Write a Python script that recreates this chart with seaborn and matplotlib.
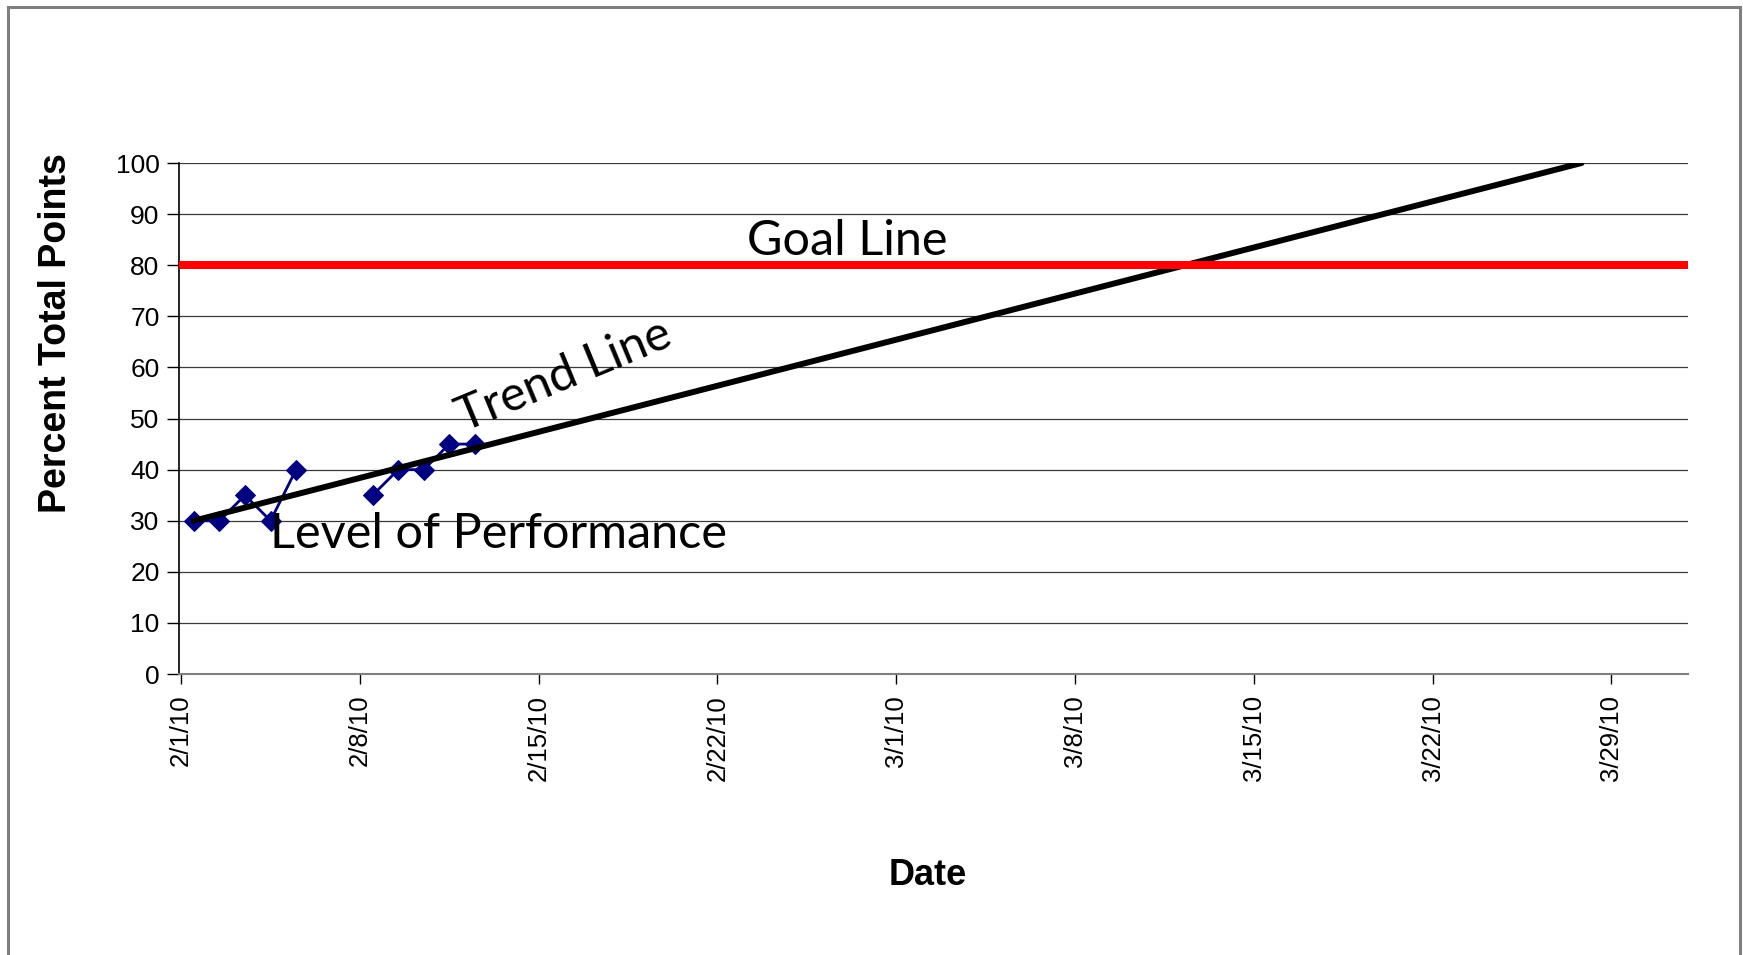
import numpy as np
import pandas as pd
import matplotlib
matplotlib.use("Agg")
import matplotlib.pyplot as plt
import matplotlib.dates as mdates
from matplotlib.ticker import FuncFormatter
from matplotlib.patches import Rectangle
import seaborn as sns

# ---- data ----
dates = ["2010-02-01", "2010-02-02", "2010-02-03", "2010-02-04", "2010-02-05",
         "2010-02-08", "2010-02-09", "2010-02-10", "2010-02-11", "2010-02-12"]
percent = [30, 30, 35, 30, 40, 35, 40, 40, 45, 45]
week = [1, 1, 1, 1, 1, 2, 2, 2, 2, 2]

trend_dates = ["2010-02-01 00:00", "2010-03-27 08:00"]
trend_values = [30, 100]

goal_value = 80

tick_dates = ["2010-02-01", "2010-02-08", "2010-02-15", "2010-02-22", "2010-03-01",
              "2010-03-08", "2010-03-15", "2010-03-22", "2010-03-29"]
y_ticks = [0, 10, 20, 30, 40, 50, 60, 70, 80, 90, 100]

# ---- styling ----
sns.set_theme(style="white")
plt.rcParams['font.family'] = ['Liberation Sans', 'DejaVu Sans']
plt.rcParams.update({"text.color": "black", "axes.labelcolor": "black",
                     "xtick.color": "black", "ytick.color": "black"})

fig = plt.figure(figsize=(17.43, 9.55), dpi=100)
ax = fig.add_axes([0.1027, 0.2942, 0.8657, 0.5351])

half_day = pd.Timedelta(hours=12)  # points sit between tick marks (Excel style)

df = pd.DataFrame({"date": pd.to_datetime(dates) + half_day,
                   "percent": percent, "week": week})
tr = pd.DataFrame({"date": pd.to_datetime(trend_dates) + half_day,
                   "value": trend_values})

# gridlines
for yv in y_ticks[1:]:
    ax.axhline(yv, color="#3a3a3a", lw=0.9, zorder=0)

sns.lineplot(data=df, x="date", y="percent", units="week", estimator=None,
             color="#000080", marker="D", markersize=10, markeredgecolor="#000080",
             linewidth=2.0, ax=ax, zorder=3)
sns.lineplot(data=tr, x="date", y="value", color="black", linewidth=4.3,
             ax=ax, zorder=4)
ax.axhline(goal_value, color="#ff0000", lw=5.8, zorder=5)

ax.set_ylim(0, 100)
ax.set_xlim(pd.Timestamp("2010-02-01") - pd.Timedelta(hours=2),
            pd.Timestamp("2010-04-01"))
ax.set_yticks(y_ticks)
ax.set_xticks(pd.to_datetime(tick_dates))

def fmt(x, pos):
    d = mdates.num2date(x)
    return f"{d.month}/{d.day}/{d.strftime('%y')}"
ax.xaxis.set_major_formatter(FuncFormatter(fmt))

ax.tick_params(axis="y", which="major", direction="out", length=9, width=1,
               color="black", labelcolor="black", labelsize=19, pad=5, left=True)
ax.tick_params(axis="x", which="major", direction="out", length=7, width=1,
               color="black", labelcolor="black", labelsize=18.5, pad=8,
               bottom=True, labelrotation=90)

for s in ["top", "right"]:
    ax.spines[s].set_visible(False)
ax.spines["left"].set_color("black")
ax.spines["left"].set_linewidth(1.2)
ax.spines["bottom"].set_color("#808080")
ax.spines["bottom"].set_linewidth(1.5)

ax.set_ylabel("Percent Total Points", fontsize=27, fontweight="bold", color="black")
ax.yaxis.set_label_coords(-0.0695, 0.667)
ax.set_xlabel("Date", fontsize=26, fontweight="bold", color="black")
ax.xaxis.set_label_coords(0.496, -0.36)

day0 = pd.Timestamp("2010-02-01")
ax.text(day0 + pd.Timedelta(days=26.1), 84.7, "Goal Line", fontsize=35,
        family="Lato", ha="center", va="center", color="black", zorder=6)
ax.text(day0 + pd.Timedelta(days=15.0), 58.5, "Trend Line", fontsize=35,
        family="Lato", ha="center", va="center", rotation=22.5, color="black", zorder=6)
ax.text(day0 + pd.Timedelta(days=3.48), 24.6, "Level of Performance", fontsize=35,
        family="Lato", ha="left", va="baseline", color="black", zorder=6)

# outer chart border
fig.patches.append(Rectangle((8 / 1743, -0.02), (1740 - 8) / 1743, 1 - 7 / 955 + 0.02,
                             transform=fig.transFigure, fill=False,
                             edgecolor="#808080", linewidth=2.2))

fig.savefig("out.png", dpi=100, facecolor="white")
